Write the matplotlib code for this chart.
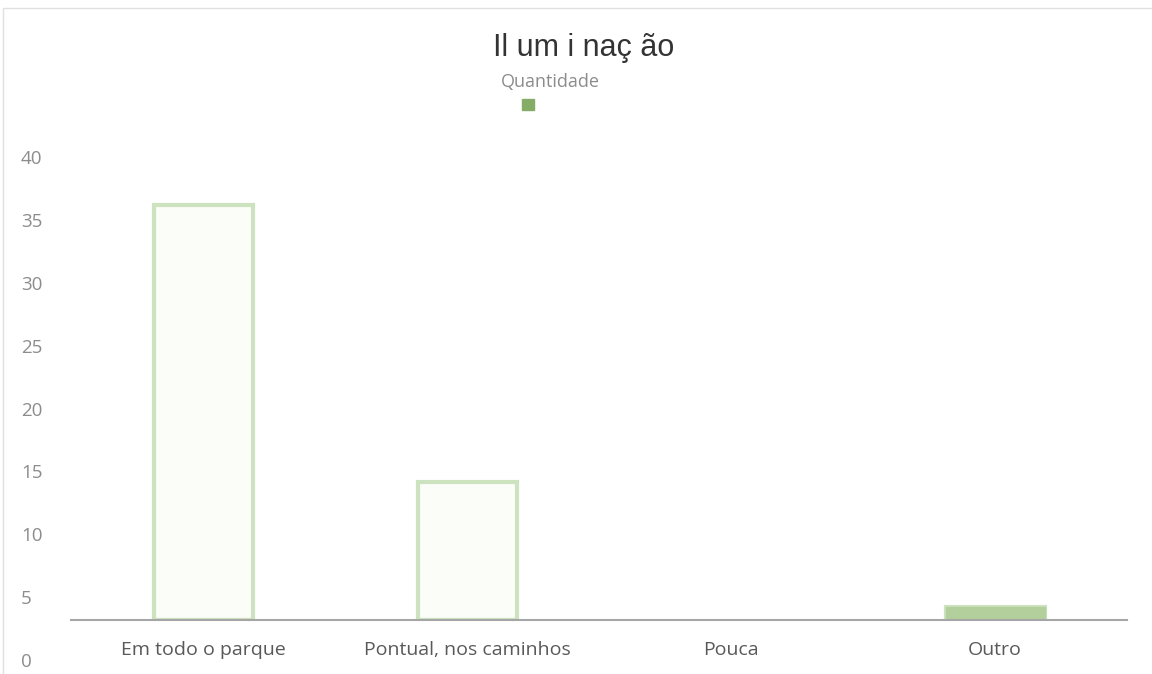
import matplotlib
matplotlib.use('Agg')
import matplotlib.pyplot as plt
import matplotlib.transforms as mtransforms
from matplotlib.patches import Rectangle

categorias = ["Em todo o parque", "Pontual, nos caminhos", "Pouca", "Outro"]
quantidade = [33, 11, 0, 1]
y_ticks = [0, 5, 10, 15, 20, 25, 30, 35, 40]

plt.rcParams['font.family'] = ['Open Sans', 'DejaVu Sans']

fig = plt.figure(figsize=(11.52, 6.74), dpi=100)
ax = fig.add_axes([71 / 1152, 54 / 674, 1056 / 1152, 503 / 674])

x = list(range(len(categorias)))
# barras com valor zero não aparecem
x_nz = [i for i, v in zip(x, quantidade) if v > 0]
q_nz = [v for v in quantidade if v > 0]
ax.bar(x_nz, q_nz, width=0.375, color='#fbfdf8', edgecolor='#cde2bf', linewidth=3)
# barra "Outro" aparece preenchida
ax.bar([3], [quantidade[3]], width=0.375, color='#b3cf9c', edgecolor='#b3cf9c', linewidth=1)

ax.set_xlim(-0.5, 3.5)
ax.set_ylim(0, 40)
ax.set_xticks(x)
ax.set_xticklabels(categorias, fontsize=14, color='#595959')
ax.set_yticks(y_ticks)
ax.set_yticklabels([str(v) for v in y_ticks], fontsize=13.5, color='#8c8c8c', ha='left')
ax.tick_params(axis='both', length=0)
ax.tick_params(axis='x', pad=15)
ax.tick_params(axis='y', pad=36)

# rótulos do eixo y deslocados para baixo (como no original)
offset = mtransforms.ScaledTranslation(0, -40 / 100, fig.dpi_scale_trans)
for lbl in ax.get_yticklabels():
    lbl.set_transform(lbl.get_transform() + offset)

for s in ['top', 'right', 'left']:
    ax.spines[s].set_visible(False)
ax.spines['bottom'].set_color('#a6a6a6')
ax.spines['bottom'].set_linewidth(1.5)

fig.text(584 / 1152, 1 - 48 / 674, 'Il um i naç ão', ha='center', va='center',
         fontsize=22, color='#333333', family=['Liberation Sans', 'DejaVu Sans'])
fig.text(550 / 1152, 1 - 82 / 674, 'Quantidade', ha='center', va='center',
         fontsize=13, color='#8c8c8c')
fig.patches.append(Rectangle((522 / 1152, 1 - 110 / 674), 12 / 1152, 11 / 674,
                             transform=fig.transFigure, color='#86ad68'))

fig.patches.append(Rectangle((3 / 1152, -0.01), 1.1, 1 - 8 / 674 + 0.01, transform=fig.transFigure,
                             fill=False, edgecolor='#e0e0e0', linewidth=1))

plt.savefig('out.png', dpi=100)
